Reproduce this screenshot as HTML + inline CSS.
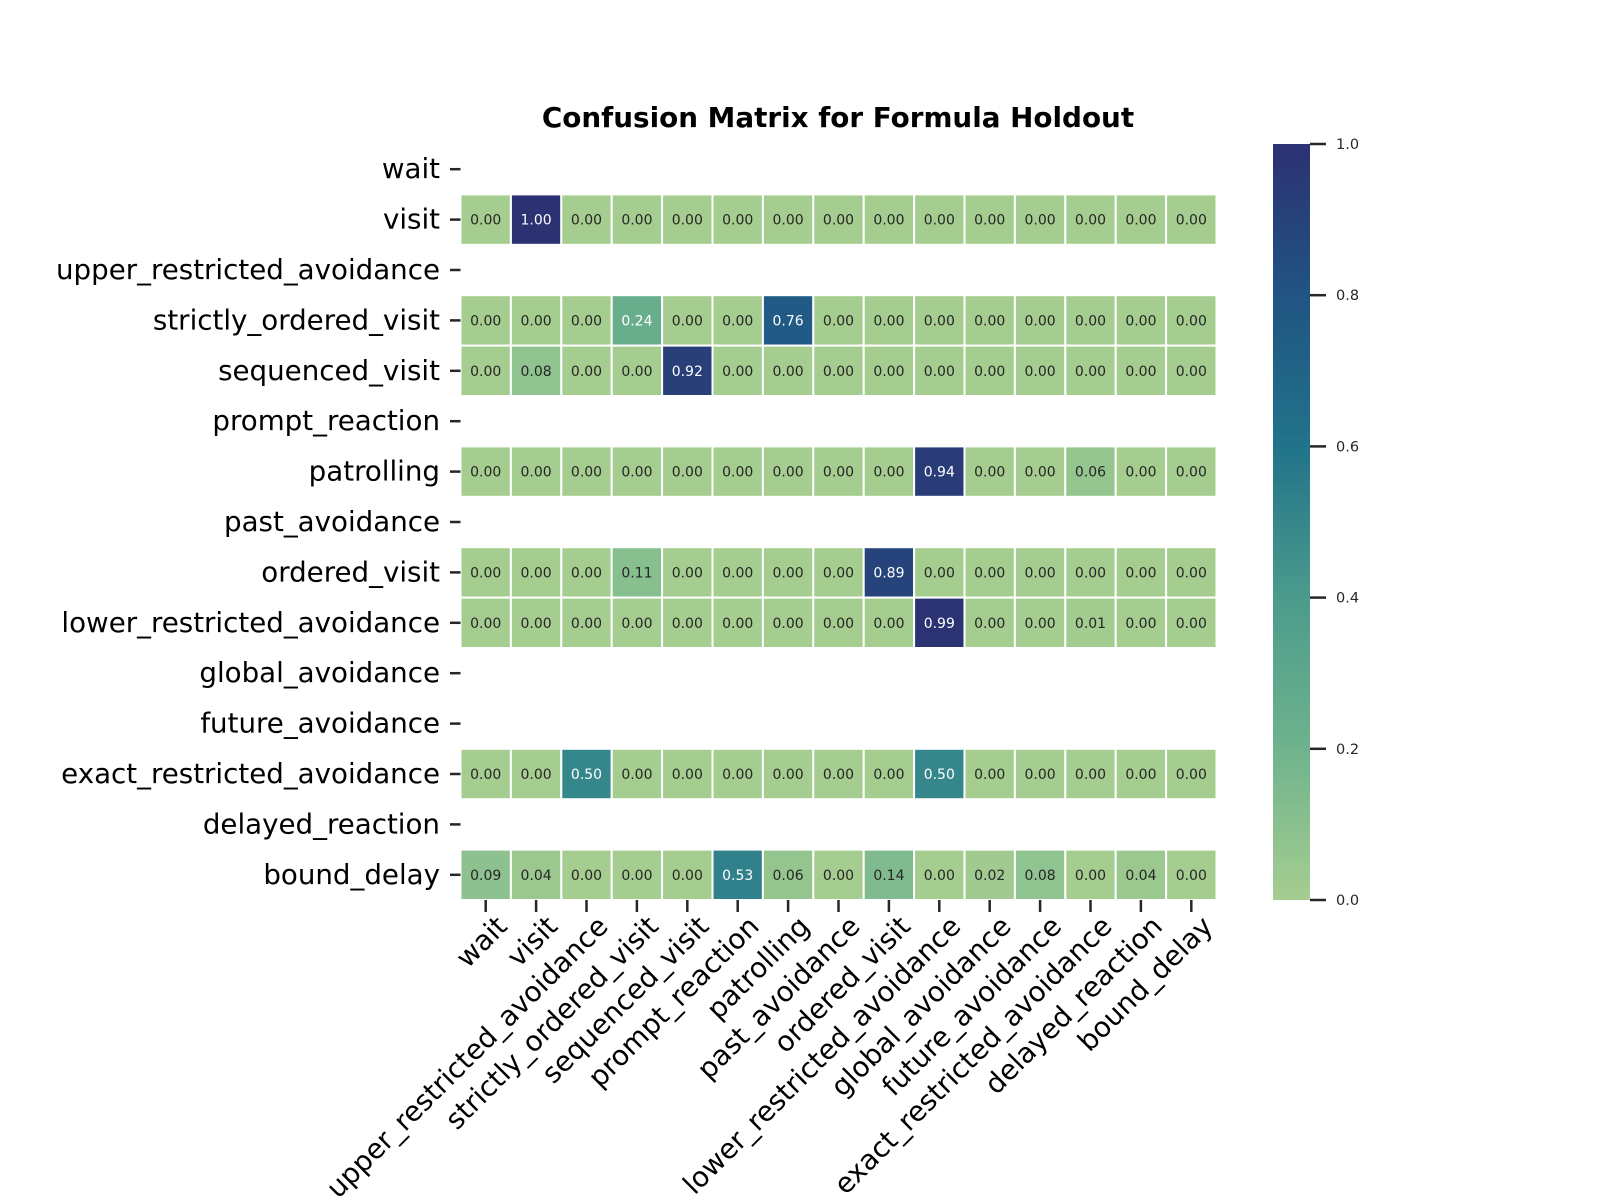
<!DOCTYPE html>
<html><head><meta charset="utf-8"><style>
body{margin:0;background:#fff}
svg{display:block;font-family:"DejaVu Sans","Liberation Sans",sans-serif}
</style></head><body>
<svg id="chart" width="1600" height="1200" viewBox="0 0 1600 1200" xmlns="http://www.w3.org/2000/svg">
<rect width="1600" height="1200" fill="#fff"/>
<text x="838" y="127" text-anchor="middle" font-size="27.8" font-weight="bold" fill="#000">Confusion Matrix for Formula Holdout</text>
<defs><linearGradient id="crest" x1="0" y1="1" x2="0" y2="0">
<stop offset="0" stop-color="#a5cd90"/><stop offset="0.2" stop-color="#6fb38d"/><stop offset="0.4" stop-color="#4b9b8c"/><stop offset="0.6" stop-color="#21738a"/><stop offset="0.8" stop-color="#215482"/><stop offset="1" stop-color="#2c3172"/></linearGradient></defs>
<g id="cells"></g><g id="axes"></g><g id="cbar"></g>
</svg>
<script>
const categories=["wait","visit","upper_restricted_avoidance","strictly_ordered_visit","sequenced_visit","prompt_reaction","patrolling","past_avoidance","ordered_visit","lower_restricted_avoidance","global_avoidance","future_avoidance","exact_restricted_avoidance","delayed_reaction","bound_delay"];
const rowWait=null;
const rowVisit=[0,1,0,0,0,0,0,0,0,0,0,0,0,0,0];
const rowUpper=null;
const rowStrict=[0,0,0,0.24,0,0,0.76,0,0,0,0,0,0,0,0];
const rowSeq=[0,0.08,0,0,0.92,0,0,0,0,0,0,0,0,0,0];
const rowPrompt=null;
const rowPatrol=[0,0,0,0,0,0,0,0,0,0.94,0,0,0.06,0,0];
const rowPast=null;
const rowOrdered=[0,0,0,0.11,0,0,0,0,0.89,0,0,0,0,0,0];
const rowLower=[0,0,0,0,0,0,0,0,0,0.99,0,0,0.01,0,0];
const rowGlobal=null;
const rowFuture=null;
const rowExact=[0,0,0.5,0,0,0,0,0,0,0.5,0,0,0,0,0];
const rowDelayed=null;
const rowBound=[0.09,0.04,0,0,0,0.53,0.06,0,0.14,0,0.02,0.08,0,0.04,0];
const matrix=[rowWait,rowVisit,rowUpper,rowStrict,rowSeq,rowPrompt,rowPatrol,rowPast,rowOrdered,rowLower,rowGlobal,rowFuture,rowExact,rowDelayed,rowBound];
const cbTicks=[0,0.2,0.4,0.6,0.8,1.0];

const NS="http://www.w3.org/2000/svg";
const X0=460.5,Y0=144,W=756,H=756,n=categories.length,cw=W/n,ch=H/n;
const xPos=i=>X0+i*cw, yPos=j=>Y0+j*ch;
const stops=[[0,[165,205,144]],[0.2,[111,179,141]],[0.4,[75,155,140]],[0.6,[33,115,138]],[0.8,[33,84,130]],[1,[44,49,114]]];
function color(v){for(let k=1;k<stops.length;k++){if(v<=stops[k][0]){const a=stops[k-1],b=stops[k],t=(v-a[0])/(b[0]-a[0]);return "rgb("+a[1].map((c,i)=>Math.round(c+(b[1][i]-c)*t)).join(",")+")";}}return "rgb(44,49,114)";}
function mk(tag,attrs,parent){const e=document.createElementNS(NS,tag);for(const k in attrs)e.setAttribute(k,attrs[k]);parent.appendChild(e);return e;}
const gc=document.getElementById("cells"),ga=document.getElementById("axes"),gb=document.getElementById("cbar");
matrix.forEach((row,j)=>{if(!row)return;row.forEach((v,i)=>{
 const r=mk("rect",{x:xPos(i),y:yPos(j),width:cw,height:ch,fill:color(v),stroke:"#fff","stroke-width":2},gc);
 
 
 const t=mk("text",{x:xPos(i)+cw/2,y:yPos(j)+ch/2+5,"text-anchor":"middle","font-size":14,fill:v>=0.2?"#fff":"#262626"},gc);
 
 
 t.textContent=v.toFixed(2);
});});
categories.forEach((c,j)=>{
 const y=yPos(j)+ch/2;
 mk("line",{x1:450,x2:460.5,y1:y,y2:y,stroke:"#262626","stroke-width":2.5},ga);
 const t=mk("text",{x:440,y:y+9,"text-anchor":"end","font-size":27.7,fill:"#000"},ga);
 
 
 t.textContent=c;
 const x=xPos(j)+cw/2;
 mk("line",{x1:x,x2:x,y1:900,y2:912,stroke:"#262626","stroke-width":2.5},ga);
 const u=mk("text",{transform:"translate("+(x+23)+",928) rotate(-45)","text-anchor":"end","font-size":27.7,fill:"#000"},ga);
 
 
 u.textContent=c;
});
const cb=mk("rect",{x:1273,y:144,width:37,height:756,fill:"url(#crest)"},gb);


cbTicks.forEach(v=>{const y=900-v*756;
 mk("line",{x1:1310,x2:1326,y1:y,y2:y,stroke:"#262626","stroke-width":2.5},gb);
 const t=mk("text",{x:1336,y:y+5,"font-size":14.5,fill:"#262626"},gb);
 
 
 t.textContent=v.toFixed(1);});
</script>
</body></html>
